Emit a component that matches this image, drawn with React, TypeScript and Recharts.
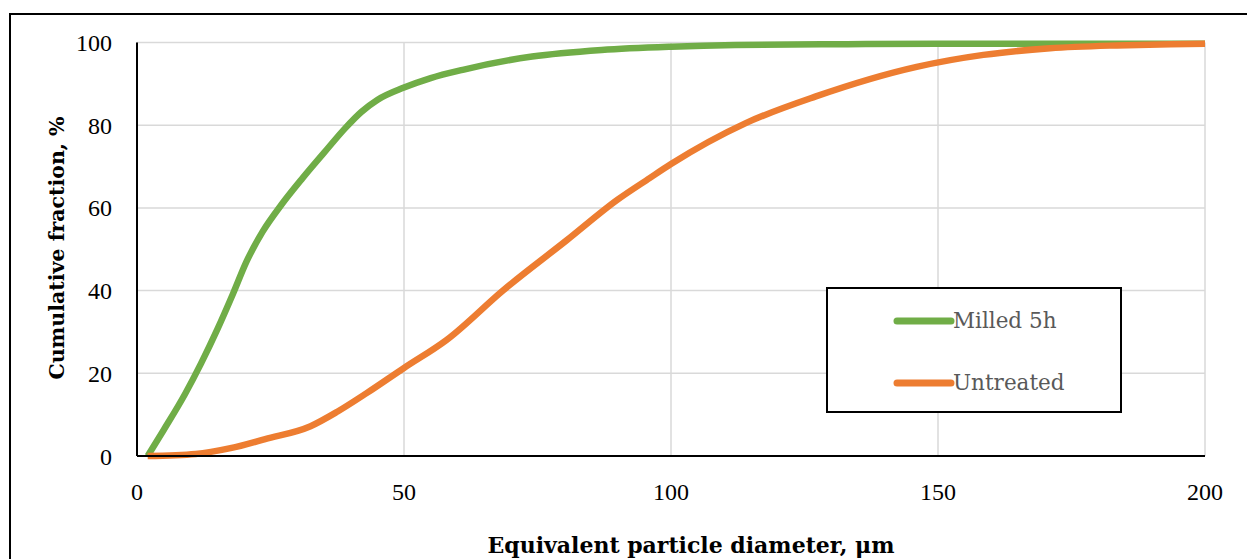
import React from 'react';
import { LineChart, Line, XAxis, YAxis, CartesianGrid, Legend } from 'recharts';

const milledX = [2, 5, 9, 12, 15, 18, 20.5, 23.5, 27, 31, 35, 39, 42, 45, 50, 55, 61, 74, 87, 100, 112, 133, 150, 175, 200];
const milledY = [0, 6.3, 15, 22.4, 30.5, 39.3, 47, 54.2, 60.7, 67.2, 73.3, 79.3, 83.2, 86.1, 89.1, 91.4, 93.4, 96.6, 98.2, 99.0, 99.4, 99.6, 99.7, 99.7, 99.7];
const untreatedX = [2, 11, 17.5, 24, 32.5, 37.5, 43, 50, 58, 68.6, 80.5, 90, 96, 100, 114, 127, 146, 158.5, 171, 183.5, 193.5, 200];
const untreatedY = [0, 0.5, 1.9, 4.1, 7.2, 10.7, 15.2, 21.3, 28.1, 40.1, 52.2, 62, 67.2, 70.6, 80.5, 86.9, 94.1, 97.0, 98.6, 99.3, 99.6, 99.7];
const xTicks = [0, 50, 100, 150, 200];
const yTicks = [0, 20, 40, 60, 80, 100];
const seriesNames = ['Milled 5h', 'Untreated'];
const seriesColors = ['#70AD47', '#ED7D31'];
const xTitle = 'Equivalent particle diameter, \u03bcm';
const yTitle = 'Cumulative fraction, %';

const milledData = milledX.map((x, i) => ({ x, y: milledY[i] }));
const untreatedData = untreatedX.map((x, i) => ({ x, y: untreatedY[i] }));

const TICK_FONT = "'Liberation Serif', serif";
const TITLE_FONT = "'DejaVu Serif', serif";

const XTitle = (props: any) => {
  const vb = props.viewBox || {};
  return (
    <text x={vb.x + vb.width / 2 + 20} y={545} textAnchor="middle" fontFamily={TITLE_FONT} fontWeight="bold" fontSize={22} fill="#000">
      {xTitle}
    </text>
  );
};

const YTitle = () => {
  const cx = 49;
  const cy = 240;
  return (
    <text x={cx} y={cy} transform={`rotate(-90, ${cx}, ${cy})`} textAnchor="middle" dominantBaseline="central" fontFamily={TITLE_FONT} fontWeight="bold" fontSize={20.5} fill="#000">
      {yTitle}
    </text>
  );
};

const LegendContent = (props: any) => {
  const payload = props.payload || [];
  return (
    <div style={{ position: 'relative', width: '100%', height: '100%' }}>
      {payload.map((p: any, i: number) => (
        <div key={i} style={{ position: 'absolute', left: 65, top: 17 + i * 62, height: 30, display: 'flex', alignItems: 'center' }}>
          <svg width={62} height={10} style={{ display: 'block' }}>
            <line x1={4} y1={5} x2={58} y2={5} stroke={p.color} strokeWidth={7} strokeLinecap="round" />
          </svg>
          <span style={{ fontFamily: TITLE_FONT, fontSize: 21.5, color: '#595959', lineHeight: '30px', marginLeft: -2 }}>{p.value}</span>
        </div>
      ))}
    </div>
  );
};

export default function App() {
  return (
    <div style={{ position: 'relative', width: 1247, height: 551, overflow: 'hidden' }}>
      <div style={{ position: 'absolute', left: 1, top: 5, width: 3000, height: 3000, border: '2px solid #000' }} />
      <div style={{ position: 'absolute', left: 0, top: 0 }}>
        <LineChart width={1247} height={551} margin={{ top: 34.5, right: 50, bottom: 43, left: 59 }}>
          <CartesianGrid stroke="#d9d9d9" strokeWidth={1.5} />
          <XAxis
            type="number"
            dataKey="x"
            domain={[0, 200]}
            ticks={xTicks}
            height={60}
            tickLine={false}
            tickSize={0}
            tickMargin={27}
            axisLine={{ stroke: '#000', strokeWidth: 2 }}
            tick={{ fontFamily: TICK_FONT, fontSize: 24, fill: '#000' }}
            label={<XTitle />}
            allowDuplicatedCategory={false}
          />
          <YAxis
            type="number"
            dataKey="y"
            domain={[0, 100]}
            ticks={yTicks}
            width={70}
            tickLine={false}
            tickSize={0}
            tickMargin={25}
            axisLine={{ stroke: '#000', strokeWidth: 2 }}
            tick={{ fontFamily: TICK_FONT, fontSize: 24, fill: '#000' }}
            label={<YTitle />}
          />
          <Legend
            layout="vertical"
            align="center"
            verticalAlign="middle"
            content={<LegendContent />}
            wrapperStyle={{ position: 'absolute', left: 818, top: 279, width: 296, height: 126, border: '2px solid #000', boxSizing: 'border-box', background: '#fff' }}
          />
          <Line data={milledData} dataKey="y" name={seriesNames[0]} type="monotone" stroke={seriesColors[0]} strokeWidth={6.5} dot={false} activeDot={false} isAnimationActive={false} />
          <Line data={untreatedData} dataKey="y" name={seriesNames[1]} type="monotone" stroke={seriesColors[1]} strokeWidth={6.5} dot={false} activeDot={false} isAnimationActive={false} />
        </LineChart>
      </div>
    </div>
  );
}
